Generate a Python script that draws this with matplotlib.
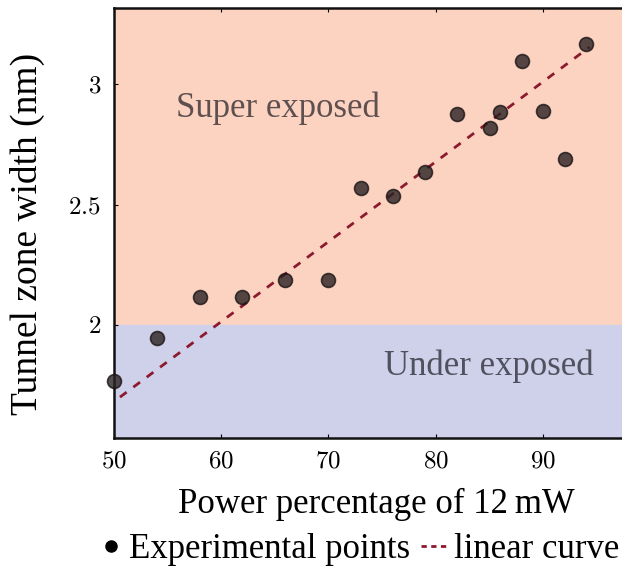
import matplotlib
matplotlib.use("Agg")
import matplotlib.pyplot as plt
from matplotlib.lines import Line2D

# data
power = [50, 54, 58, 62, 66, 70, 73, 76, 79, 82, 85, 86, 88, 90, 92, 94]
width = [1.767, 1.946, 2.116, 2.116, 2.187, 2.187, 2.57, 2.536, 2.636,
         2.877, 2.82, 2.886, 3.098, 2.89, 2.69, 3.168]
fit_x = [50.6, 94.3]
fit_y = [1.70, 3.156]
threshold = 2.0

xticks = [50, 60, 70, 80, 90]
yticks = [2, 2.5, 3]

plt.rcParams["font.family"] = "Liberation Serif"
plt.rcParams["mathtext.fontset"] = "cm"

fig = plt.figure(figsize=(6.22, 5.67), dpi=100)
ax = fig.add_axes([0.1825, 0.2275, 0.864, 0.7584])

ymin, ymax = 1.53, 3.318
xmin, xmax = 50, 100
ax.axhspan(threshold, ymax, color="#fcd3c1", zorder=0)
ax.axhspan(ymin, threshold, color="#cfd0e9", zorder=0)

ax.plot(fit_x, fit_y, ls=(0, (3, 3)), color="#8c1a2e", lw=2, zorder=2)
ax.plot(power, width, "o", ms=10, color="#2a2222", alpha=0.8,
        mec="#1a1414", mew=1.2, zorder=3, clip_on=False)

ax.text(55.8, 2.9, "Super exposed", fontsize=25, color="#5f5050", va="center")
ax.text(75.2, 1.83, "Under exposed", fontsize=25, color="#50505f", va="center")

ax.set_xlim(xmin, xmax)
ax.set_ylim(ymin, ymax)
ax.set_xticks(xticks)
ax.set_xticklabels(["$%d$" % t for t in xticks])
ax.set_yticks(yticks)
ax.set_yticklabels(["$%g$" % t for t in yticks])
ax.tick_params(direction="in", length=3, width=0.8, labelsize=18, top=True,
               pad=9)
for s in ax.spines.values():
    s.set_linewidth(1.8)
    s.set_color("#111111")

ax.set_xlabel("Power percentage of 12\u2009mW", fontsize=25)
ax.xaxis.set_label_coords(0.49, -0.115)
ax.set_ylabel("Tunnel zone width (nm)", fontsize=27)
ax.yaxis.set_label_coords(-0.128, 0.475)

# legend sits under the axes, running off the right edge like the original
handles = [
    Line2D([], [], ls="none", marker="o", ms=8, color="black"),
    Line2D([], [], ls=(0, (1.9, 1.6)), lw=2, color="#8c1a2e"),
]
fig.legend(handles, ["Experimental points", "linear curve"], loc="center left",
           bbox_to_anchor=(0.155, 0.03), ncol=2, frameon=False, fontsize=25,
           handlelength=0.85, handletextpad=0.1, columnspacing=0.3,
           borderpad=0, borderaxespad=0)

fig.savefig("out.png", dpi=100)
